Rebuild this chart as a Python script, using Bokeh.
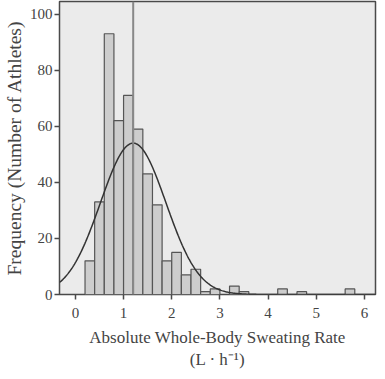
import numpy as np
from bokeh.plotting import figure
from bokeh.models import Range1d, FixedTicker, Span, ColumnDataSource
from bokeh.embed import file_html
from bokeh.resources import INLINE

# histogram bins (L/h) and counts
bin_left = [0.2, 0.4, 0.6, 0.8, 1.0, 1.2, 1.4, 1.6, 1.8, 2.0, 2.2, 2.4, 2.6, 2.8, 3.2, 3.4, 4.2, 4.6, 5.6]
counts   = [12, 33, 93, 62, 71, 59, 43, 32, 12, 15, 7, 9, 1, 2, 3, 1, 2, 1, 2]
bin_width = 0.2
mean_rate = 1.20
sd_rate = 0.68
x_ticks = [0, 1, 2, 3, 4, 5, 6]
y_ticks = [0, 20, 40, 60, 80, 100]

n_total = sum(counts)
FONT = "Liberation Serif"

p = figure(width=377, height=368, output_backend="svg", toolbar_location=None,
           x_range=Range1d(-0.33, 6.23), y_range=Range1d(0, 104.5))
p.frame_height = 293
p.min_border_left = 40
p.min_border_right = 2
p.min_border_top = 1
p.min_border_bottom = 10

p.background_fill_color = "#ebebeb"
p.border_fill_color = "white"
p.outline_line_color = "#4a4a4a"
p.outline_line_width = 1.5
p.xgrid.visible = False
p.ygrid.visible = False

src = ColumnDataSource(dict(left=bin_left,
                            right=[b + bin_width for b in bin_left],
                            top=counts))
p.quad(left="left", right="right", bottom=0, top="top", source=src,
       fill_color="#cdcdcd", line_color="#555555", line_width=1.2)

# fitted normal curve
xs = np.linspace(-0.33, 6.23, 400)
ys = n_total * bin_width * np.exp(-0.5 * ((xs - mean_rate) / sd_rate) ** 2) / (sd_rate * np.sqrt(2 * np.pi))
p.line(xs, ys, line_color="#333333", line_width=1.5)

p.add_layout(Span(location=mean_rate, dimension="height", line_color="#888888", line_width=2))

for ax in (p.xaxis[0], p.yaxis[0]):
    ax.axis_line_color = None
    ax.major_tick_line_color = "#4a4a4a"
    ax.major_tick_line_width = 1.5
    ax.major_tick_out = 5
    ax.major_tick_in = 0
    ax.minor_tick_line_color = None
    ax.major_label_text_font = FONT
    ax.major_label_text_font_size = "15px"
    ax.major_label_text_color = "#444444"
    ax.axis_label_text_font = FONT
    ax.axis_label_text_font_style = "normal"
    ax.axis_label_text_color = "#444444"

p.xaxis.axis_label_text_font_size = "17px"
p.yaxis.axis_label_text_font_size = "19.5px"
p.xaxis.ticker = FixedTicker(ticks=x_ticks)
p.yaxis.ticker = FixedTicker(ticks=y_ticks)
p.xaxis.major_label_standoff = 8
p.yaxis.major_label_standoff = 2
p.xaxis.axis_label_standoff = 7
p.yaxis.axis_label_standoff = 2
p.xaxis.axis_label = "Absolute Whole-Body Sweating Rate\n(L · h⁻¹)"
p.yaxis.axis_label = "Frequency (Number of Athletes)"

open("out.html", "w").write(file_html(p, INLINE))
